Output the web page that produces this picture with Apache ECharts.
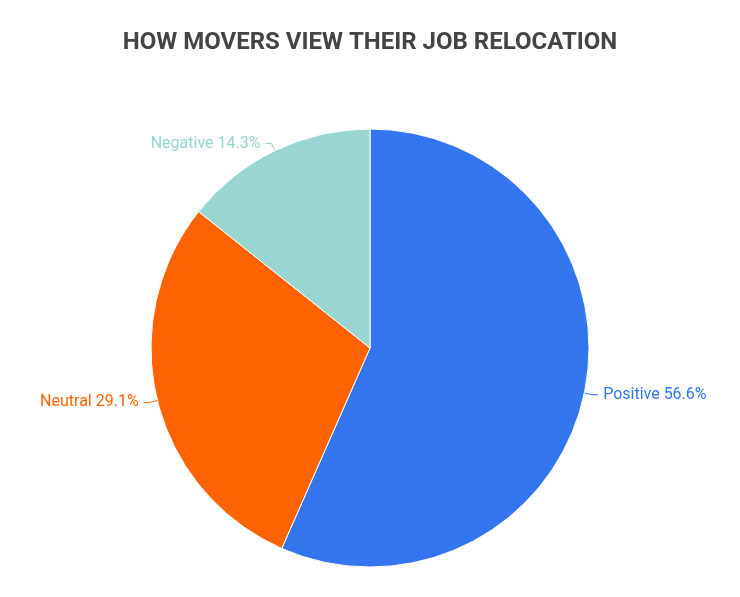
<!DOCTYPE html>
<html><head><meta charset="utf-8">
<script src="https://cdn.jsdelivr.net/npm/echarts@6/dist/echarts.min.js"></script>
<style>html,body{margin:0;padding:0;background:#fff}#c{width:740px;height:597px}</style>
</head><body><div id="c"></div>
<script>
const categories = ["Positive", "Neutral", "Negative"];
const values = [56.6, 29.1, 14.3];
const colors = ["#3275ed", "#ff6200", "#99d5d1"];
const chart = echarts.init(document.getElementById('c'));
chart.setOption({
  title: {text: "HOW MOVERS VIEW THEIR JOB RELOCATION", left: 'center', top: 26,
    textStyle: {fontFamily: 'Roboto', fontWeight: 'bold', fontSize: 24, color: '#444'}},
  series: [{
    type: 'pie', center: [370, 348], radius: 219, startAngle: 90, clockwise: true,
    itemStyle: {borderColor: '#fff', borderWidth: 1},
    label: {formatter: p => p.name + ' ' + p.value + '%', fontFamily: 'Roboto', fontSize: 16, color: 'inherit'},
    labelLine: {length: 8, length2: 6, lineStyle: {width: 1}},
    data: categories.map((n, i) => ({name: n, value: values[i], itemStyle: {color: colors[i]}, label: {color: colors[i]}}))
  }]
});
</script></body></html>
